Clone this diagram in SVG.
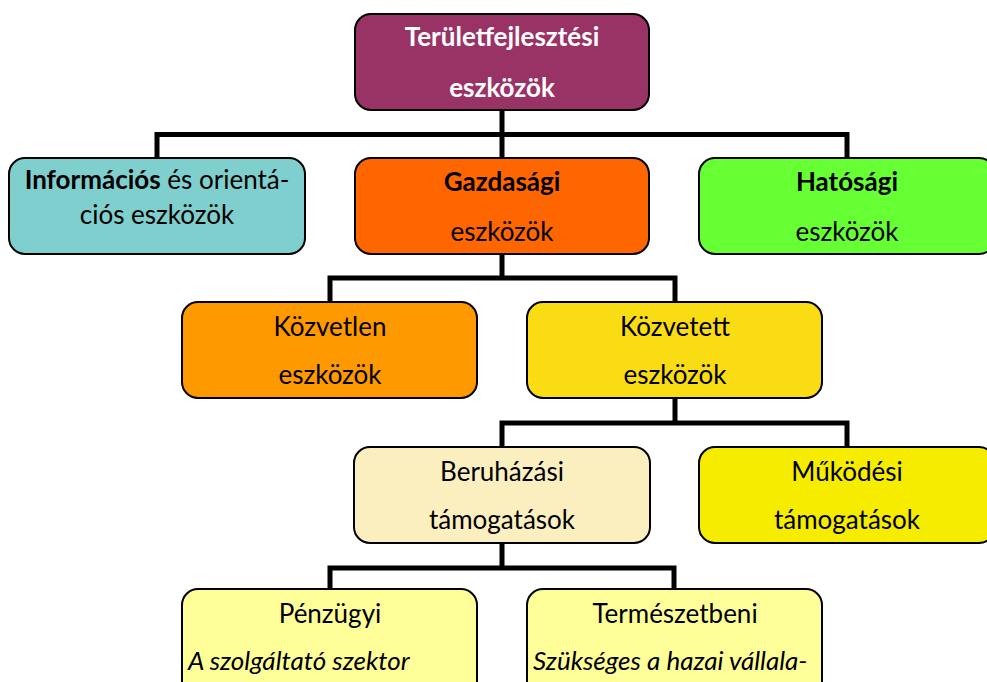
<svg xmlns="http://www.w3.org/2000/svg" width="987" height="682" viewBox="0 0 987 682">
<style>
.box{stroke:#000;stroke-width:2}
.t{font-family:Lato,"Liberation Sans",sans-serif;font-size:26px;fill:#000;text-anchor:middle}
.b{font-weight:bold}
.w{fill:#fff}
.i{font-style:italic;text-anchor:start}
.c{fill:none;stroke:#000;stroke-width:5}
</style>
<rect width="987" height="682" fill="#fff"/>
<g id="connectors">
<path class="c" d="M502 110V158M157 158V134.5H847V158"/>
<path class="c" d="M502 254V278M330 302V278H675V302"/>
<path class="c" d="M675 398V423M502 447V423H847V447"/>
<path class="c" d="M502 543V568M330 589V568H674V589"/>
</g>
<g id="n-teruletfejlesztesi">
<rect class="box" x="355" y="14" width="294" height="96" rx="16" fill="#993366"/>
<text class="t b w" x="502" y="46">Területfejlesztési</text>
<text class="t b w" x="502" y="97">eszközök</text>
</g>
<g id="n-informacios">
<rect class="box" x="9" y="158" width="296" height="96" rx="16" fill="#7FCFCF"/>
<text class="t" x="157" y="189" font-size="25"><tspan class="b">Információs</tspan> és orientá-</text>
<text class="t" x="157" y="224" font-size="25">ciós eszközök</text>
</g>
<g id="n-gazdasagi">
<rect class="box" x="355" y="158" width="294" height="96" rx="16" fill="#FF6600"/>
<text class="t b" x="502" y="191">Gazdasági</text>
<text class="t" x="502" y="241">eszközök</text>
</g>
<g id="n-hatosagi">
<rect class="box" x="699" y="158" width="296" height="96" rx="16" fill="#66FF33"/>
<text class="t b" x="847" y="191">Hatósági</text>
<text class="t" x="847" y="241">eszközök</text>
</g>
<g id="n-kozvetlen">
<rect class="box" x="182" y="302" width="295" height="96" rx="16" fill="#FF9900"/>
<text class="t" x="330" y="336">Közvetlen</text>
<text class="t" x="330" y="384">eszközök</text>
</g>
<g id="n-kozvetett">
<rect class="box" x="527" y="302" width="295" height="96" rx="16" fill="#FADC14"/>
<text class="t" x="675" y="336">Közvetett</text>
<text class="t" x="675" y="384">eszközök</text>
</g>
<g id="n-beruhazasi">
<rect class="box" x="354" y="447" width="296" height="96" rx="16" fill="#FBEFC0"/>
<text class="t" x="502" y="481">Beruházási</text>
<text class="t" x="502" y="529">támogatások</text>
</g>
<g id="n-mukodesi">
<rect class="box" x="699" y="447" width="296" height="96" rx="16" fill="#F5EC00"/>
<text class="t" x="847" y="481">Működési</text>
<text class="t" x="847" y="529">támogatások</text>
</g>
<g id="n-penzugyi">
<rect class="box" x="182" y="589" width="295" height="120" rx="16" fill="#FFFF99"/>
<text class="t" x="330" y="623">Pénzügyi</text>
<text class="t i" x="188" y="670">A szolgáltató szektor</text>
</g>
<g id="n-termeszetbeni">
<rect class="box" x="527" y="589" width="295" height="120" rx="16" fill="#FFFF99"/>
<text class="t" x="675" y="623">Természetbeni</text>
<text class="t i" x="533" y="670">Szükséges a hazai vállala-</text>
</g>
</svg>
